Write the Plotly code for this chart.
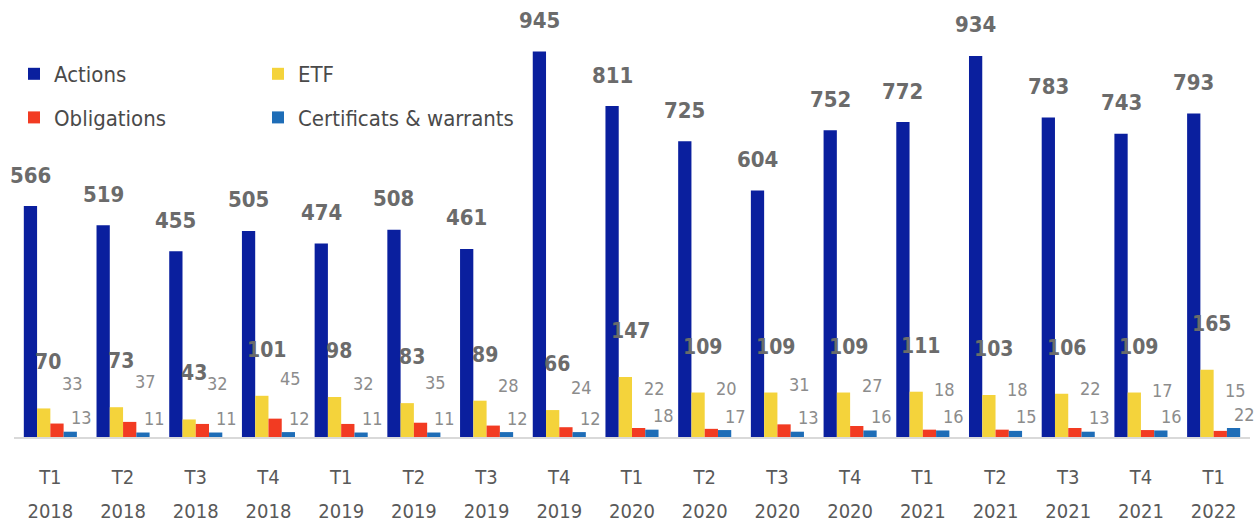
import plotly.graph_objects as go

quarters = ["T1", "T2", "T3", "T4", "T1", "T2", "T3", "T4", "T1", "T2", "T3", "T4", "T1", "T2", "T3", "T4", "T1"]
years = ["2018", "2018", "2018", "2018", "2019", "2019", "2019", "2019", "2020", "2020", "2020", "2020",
         "2021", "2021", "2021", "2021", "2022"]
actions = [566, 519, 455, 505, 474, 508, 461, 945, 811, 725, 604, 752, 772, 934, 783, 743, 793]
etf = [70, 73, 43, 101, 98, 83, 89, 66, 147, 109, 109, 109, 111, 103, 106, 109, 165]
obligations = [33, 37, 32, 45, 32, 35, 28, 24, 22, 20, 31, 27, 18, 18, 22, 17, 15]
certificats = [13, 11, 11, 12, 11, 11, 12, 12, 18, 17, 13, 16, 16, 15, 13, 16, 22]

cats = [f"{q} {y}" for q, y in zip(quarters, years)]
ticktext = [f"<span style='font-size:20px'>{q}</span><br><span style='font-size:20px'>{y}</span>"
            for q, y in zip(quarters, years)]

FONT = "DejaVu Sans Condensed, Liberation Sans Narrow, sans-serif"
W, H = 1256, 525
ML, MR, MT, MB = 14, 6, 0, 88
BARGAP = 0.27
plot_w = W - ML - MR
group_px = plot_w / len(cats)
bar_px = group_px * (1 - BARGAP) / 4

series = [
    ("Actions", actions, "#0a1f9e", "legend"),
    ("ETF", etf, "#f4d33b", "legend2"),
    ("Obligations", obligations, "#f23b22", "legend"),
    ("Certificats & warrants", certificats, "#1e6db7", "legend2"),
]

fig = go.Figure()
for i, (name, vals, color, lg) in enumerate(series):
    fig.add_trace(go.Bar(
        x=cats, y=vals, name=name, marker=dict(color=color, line=dict(width=0)),
        legend=lg, legendgroup=name, hoverinfo="skip",
    ))

annotations = []
# label styles: (xshift px relative to group center, yshift px, size, bold, color)
styles = [
    (-1.5 * bar_px, 31, 22, True, "#6b6b6b"),
    (-2, 46, 21, True, "#6b6b6b"),
    (22, 40, 18, False, "#8c8c8c"),
    (31, 14, 18, False, "#8c8c8c"),
]
for (name, vals, color, lg), (xs, ys, size, bold, tcol) in zip(series, styles):
    for c, v in zip(cats, vals):
        annotations.append(dict(
            x=c, y=v, xref="x", yref="y", text=str(v), showarrow=False,
            xshift=xs, yshift=ys, yanchor="middle", xanchor="center",
            font=dict(family=FONT, size=size, color=tcol, weight="bold" if bold else "normal"),
        ))

fig.update_layout(
    width=W, height=H,
    margin=dict(l=ML, r=MR, t=MT, b=MB),
    paper_bgcolor="white", plot_bgcolor="white",
    barmode="group", bargap=BARGAP, bargroupgap=0,
    font=dict(family=FONT, color="#595959"),
    annotations=annotations,
    showlegend=True,
    legend=dict(x=0.0, y=1 - 53 / 437, xanchor="left", yanchor="top", orientation="v",
                font=dict(family=FONT, size=22, color="#4a4a4a"), tracegroupgap=12,
                bgcolor="rgba(0,0,0,0)"),
    legend2=dict(x=(258 - ML) / plot_w, y=1 - 53 / 437, xanchor="left", yanchor="top", orientation="v",
                 font=dict(family=FONT, size=22, color="#4a4a4a"), tracegroupgap=12,
                 bgcolor="rgba(0,0,0,0)"),
    xaxis=dict(
        type="category", categoryorder="array", categoryarray=cats,
        tickmode="array", tickvals=cats, ticktext=ticktext,
        tickfont=dict(family=FONT, size=26, color="#595959"),
        ticklabelstandoff=14,
        showline=True, linecolor="#d9d9d9", linewidth=1.5, ticks="", showgrid=False,
        range=[-0.5, len(cats) - 0.5],
    ),
    yaxis=dict(range=[0, 1071], visible=False, showgrid=False, zeroline=False),
)

fig.write_html("out.html")
